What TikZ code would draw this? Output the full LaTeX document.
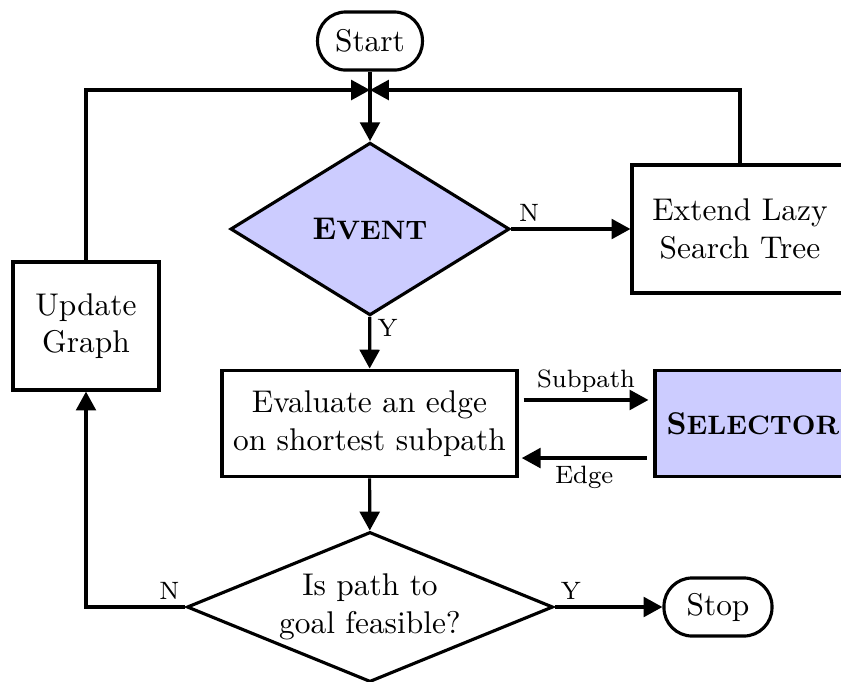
\documentclass[tikz,border=0pt]{standalone}
\usetikzlibrary{arrows.meta, shapes.geometric}
\definecolor{lavender}{RGB}{204,204,255}
\newcommand{\boldsc}[2]{\textbf{#1{\fontsize{8.5}{9}\selectfont #2}}}

\begin{document}
\begin{tikzpicture}[x=0.3185pt, y=-0.3185pt, line width=1pt,
  box/.style={draw, rectangle, inner sep=0pt, align=center},
  term/.style={draw, rectangle, rounded corners=9pt, inner sep=0pt, minimum width=33.4pt, minimum height=18.5pt},
  decide/.style={draw, diamond, aspect=2.4, inner sep=0pt, align=center},
  arr/.style={-{Triangle[length=6pt,width=6.3pt]}},
  lbl/.style={font=\footnotesize, inner sep=2pt}]
\clip (0,0) rectangle (841,681);
\node[term] (start) at (370,41) {Start};
\node[decide, fill=lavender, minimum width=88.9pt, minimum height=55pt] (event) at (370,229) {\boldsc{E}{VENT}};
\node[box, minimum width=68.8pt, minimum height=40.8pt] (extend) at (740,229) {Extend Lazy\\Search Tree};
\node[box, minimum width=46.5pt, minimum height=40.8pt] (update) at (86,326) {Update\\Graph};
\node[box, minimum width=94pt, minimum height=34pt] (eval) at (369.5,423.5) {Evaluate an edge\\on shortest subpath};
\node[box, fill=lavender, minimum width=62.4pt, minimum height=34pt] (sel) at (753,423.5) {\boldsc{S}{ELECTOR}};
\node[decide, minimum width=116.6pt, minimum height=47.8pt] (feas) at (370,607) {Is path to\\goal feasible?};
\node[term, minimum width=34.4pt] (stop) at (718,607) {Stop};
\coordinate (jn) at (370,90);
% joins into the loop
\draw[arr] (start) -- (event);
\draw[arr] (update) |- (jn);
\draw[arr] (extend) |- (jn);
\draw[arr] (event) -- node[lbl, pos=0.15, above] {N} (extend);
\draw[arr] (event) -- node[lbl, pos=0.22, right] {Y} (eval);
\draw[arr] ([xshift=1.6pt,yshift=7.5pt]eval.east) -- node[lbl, above] {Subpath} ([xshift=-1.6pt,yshift=7.5pt]sel.west);
\draw[arr] ([xshift=-2.2pt,yshift=-11pt]sel.west) -- node[lbl, below] {Edge} ([xshift=1pt,yshift=-11pt]eval.east);
\draw[arr] (eval) -- (feas);
\draw[arr] (feas) -- node[lbl, pos=0.15, above] {Y} (stop);
\draw[arr] (feas) -| node[lbl, pos=0.08, above] {N} (update);
\end{tikzpicture}
\end{document}
